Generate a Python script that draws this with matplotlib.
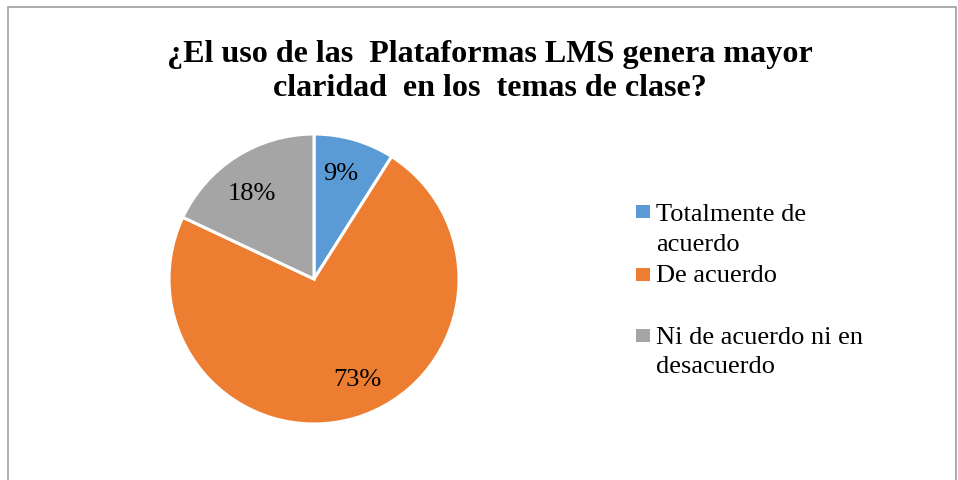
import matplotlib
matplotlib.use("Agg")
import matplotlib.pyplot as plt
from matplotlib.patches import Rectangle

plt.rcParams["font.family"] = ["Liberation Serif", "DejaVu Serif"]

# data
categories = ["Totalmente de\nacuerdo", "De acuerdo", "Ni de acuerdo ni en\ndesacuerdo"]
values = [9, 73, 18]
colors = ["#5B9BD5", "#ED7D31", "#A5A5A5"]
title_lines = ["¿El uso de las  Plataformas LMS genera mayor", "claridad  en los  temas de clase?"]

W, H = 958, 480
fig = plt.figure(figsize=(W / 100, H / 100), dpi=100)


def fx(px):
    return px / W


def fy(py):
    return 1 - py / H


# chart frame
fig.add_artist(Rectangle((fx(8), -0.1), fx(956 - 8), fy(7) + 0.1, transform=fig.transFigure,
                         fill=False, edgecolor="#A6A6A6", lw=1.3))

# title
fig.text(fx(490), fy(62), title_lines[0], ha="center", va="baseline",
         fontsize=23.1, fontweight="bold")
fig.text(fx(490), fy(96), title_lines[1], ha="center", va="baseline",
         fontsize=23.1, fontweight="bold")

# pie: center (314, 279), radius 145 px
cx, cy, r = 314, 279, 145
half = 150
ax = fig.add_axes([fx(cx - half), fy(cy + half), fx(2 * half), 2 * half / H])
wedges, texts, autotexts = ax.pie(values, colors=colors, startangle=90, counterclock=False,
                                  autopct="%1.0f%%", pctdistance=0.77,
                                  wedgeprops=dict(edgecolor="white", linewidth=2.2),
                                  textprops=dict(fontsize=19))
# label placement as in the source (excel "best fit")
label_pos = [(0.186, 0.727), (0.297, -0.695), (-0.428, 0.585)]
for t, p in zip(autotexts, label_pos):
    t.set_position(p)
ax.set_xlim(-half / r, half / r)
ax.set_ylim(-half / r, half / r)
ax.set_aspect("equal")
ax.axis("off")

# legend (manual, as laid out in the source)
square_y = [211, 274, 335]
line_baselines = [[221, 251], [282], [344, 373]]
for color, label, sy, bases in zip(colors, categories, square_y, line_baselines):
    fig.add_artist(Rectangle((fx(636), fy(sy + 6.5)), fx(14), 13 / H,
                             transform=fig.transFigure, facecolor=color, edgecolor="none"))
    for line, b in zip(label.split("\n"), bases):
        fig.text(fx(656), fy(b), line, ha="left", va="baseline", fontsize=19)

fig.savefig("out.png", dpi=100)
